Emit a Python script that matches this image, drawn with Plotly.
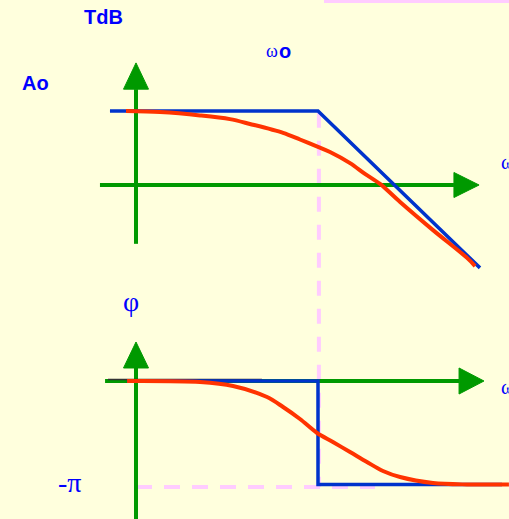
import plotly.graph_objects as go

# ---------------- data (x = log10(w/w0), top: T in dB, bottom: phase in rad) ----------------
PI = 3.14159265

# magnitude: asymptote (blue) and real curve (red)
mag_asym_x = [-1.143, 0.0, 0.890]
mag_asym_y = [20.0, 20.0, -22.4]
mag_real_x = [-1.055, -0.868, -0.648, -0.484, -0.374, -0.192, -0.099, 0.0, 0.066,
              0.176, 0.258, 0.341, 0.451, 0.632, 0.819, 0.863]
mag_real_y = [20.0, 19.7, 18.8, 17.8, 16.5, 14.1, 12.3, 10.3, 8.9,
              5.9, 3.0, 0.3, -4.6, -12.2, -19.7, -21.9]

# phase: asymptote (blue) and real curve (red)
ph_asym_x = [-1.05, 0.0, 0.0, 1.011]
ph_asym_y = [0.0, 0.0, -PI, -PI]
ph_real_x = [-1.049, -0.648, -0.467, -0.280, -0.192, -0.099, -0.005, 0.082, 0.176,
             0.269, 0.357, 0.451, 0.632, 0.819, 1.049]
ph_real_y = [0.0, -0.03, -0.152, -0.486, -0.789, -1.153, -1.578, -1.851, -2.155,
             -2.458, -2.731, -2.914, -3.096, -3.14, -3.14]

# axes of the two diagrams
top_axis_h = {"x": [-1.198, 0.747], "y": [0.0, 0.0]}
top_axis_v = {"x": [-1.0, -1.0], "y": [-15.9, 25.9]}
top_arrow_h = {"x": [0.747, 0.885, 0.747, 0.747], "y": [3.38, 0.0, -3.38, 3.38]}
top_arrow_v = {"x": [-1.0687, -1.0, -0.9313, -1.0687], "y": [25.9, 33.0, 25.9, 25.9]}

bot_axis_h = {"x": [-1.170, 0.775], "y": [0.0, 0.0]}
bot_axis_v = {"x": [-1.0, -1.0], "y": [-4.3, 0.395]}
bot_arrow_h = {"x": [0.775, 0.912, 0.775, 0.775], "y": [0.395, 0.0, -0.395, 0.395]}
bot_arrow_v = {"x": [-1.0687, -1.0, -0.9313, -1.0687], "y": [0.395, 1.184, 0.395, 0.395]}
bot_black = {"x": [-1.154, -0.308], "y": [0.045, 0.045]}

# guide lines (pink dashed)
guide_v_x = [0.005, 0.005]
guide_v_y = [19.5, -81.6]          # in dB-axis units, spans both diagrams
guide_h_x = [-1.0, 0.313]
guide_h_y = [-3.217, -3.217]       # phase axis
top_bar_x = [0.033, 1.05]
top_bar_y = [50.0, 50.0]

# ---------------- styles ----------------
BG = "#FFFFDD"
GREEN = "#009900"
BLUE = "#0033CC"
RED = "#FF3300"
PINK = "#FFCCFF"
TXT = "#0000FF"

fig = go.Figure()

def line(d_x, d_y, color, width, yaxis="y", dash=None, shape="linear"):
    fig.add_trace(go.Scatter(x=d_x, y=d_y, mode="lines", yaxis=yaxis,
                             line=dict(color=color, width=width, dash=dash, shape=shape,
                                       smoothing=0.9 if shape == "spline" else None),
                             hoverinfo="skip", showlegend=False))

def tri(d, yaxis="y"):
    fig.add_trace(go.Scatter(x=d["x"], y=d["y"], mode="lines", yaxis=yaxis, fill="toself",
                             fillcolor=GREEN, line=dict(color=GREEN, width=1),
                             hoverinfo="skip", showlegend=False))

# pink guides first (behind)
line(top_bar_x, top_bar_y, PINK, 6)
line(guide_v_x, guide_v_y, PINK, 4, dash="15px,13px")
line(guide_h_x, guide_h_y, PINK, 4, yaxis="y2", dash="16px,12px")

# top diagram
line(top_axis_h["x"], top_axis_h["y"], GREEN, 4)
line(top_axis_v["x"], top_axis_v["y"], GREEN, 4)
tri(top_arrow_h)
tri(top_arrow_v)
line(mag_asym_x, mag_asym_y, BLUE, 3.5)
line(mag_real_x, mag_real_y, RED, 4, shape="spline")

# bottom diagram
line(bot_axis_h["x"], bot_axis_h["y"], GREEN, 4, yaxis="y2")
line(bot_axis_v["x"], bot_axis_v["y"], GREEN, 4, yaxis="y2")
tri(bot_arrow_h, yaxis="y2")
tri(bot_arrow_v, yaxis="y2")
line(bot_black["x"], bot_black["y"], "#333333", 1.5, yaxis="y2")
line(ph_asym_x, ph_asym_y, BLUE, 3.5, yaxis="y2")
line(ph_real_x, ph_real_y, RED, 4, yaxis="y2", shape="spline")

SANS = "Liberation Sans, Arial, sans-serif"
SERIF = "Liberation Serif, Times New Roman, serif"

annotations = [
    dict(text="<b>TdB</b>", x=-1.176, y=45.4, yref="y", font=dict(family=SANS, size=20, color=TXT)),
    dict(text="<b>Ao</b>", x=-1.552, y=27.5, yref="y", font=dict(family=SANS, size=20, color=TXT)),
    dict(text="ω", x=-0.2555, y=36.2, yref="y", font=dict(family=SERIF, size=18, color=TXT)),
    dict(text="<b>o</b>", x=-0.1813, y=36.2, yref="y", font=dict(family=SANS, size=20, color=TXT)),
    dict(text="ω", x=0.995, y=6.2, yref="y", xanchor="left", font=dict(family=SERIF, size=20, color=TXT)),
    dict(text="φ", x=-1.025, y=2.40, yref="y2", font=dict(family=SERIF, size=28, color=TXT)),
    dict(text="-π", x=-1.363, y=-3.08, yref="y2", font=dict(family=SERIF, size=28, color=TXT)),
    dict(text="ω", x=0.995, y=-0.18, yref="y2", xanchor="left", font=dict(family=SERIF, size=20, color=TXT)),
]
for a in annotations:
    a.setdefault("xanchor", "center")
    a.update(xref="x", showarrow=False, yanchor="middle")

fig.update_layout(
    width=509, height=519,
    margin=dict(l=0, r=0, t=0, b=0),
    paper_bgcolor=BG, plot_bgcolor=BG,
    xaxis=dict(range=[-1.74725, 1.04945], visible=False, fixedrange=True),
    yaxis=dict(range=[-90.27, 50.0], visible=False, fixedrange=True),
    yaxis2=dict(range=[-4.188, 11.563], visible=False, fixedrange=True, overlaying="y"),
    annotations=annotations,
    showlegend=False,
)

fig.write_html("out.html", config={"displayModeBar": False},
               post_script="document.body.style.margin='0';document.body.style.overflow='hidden';")
